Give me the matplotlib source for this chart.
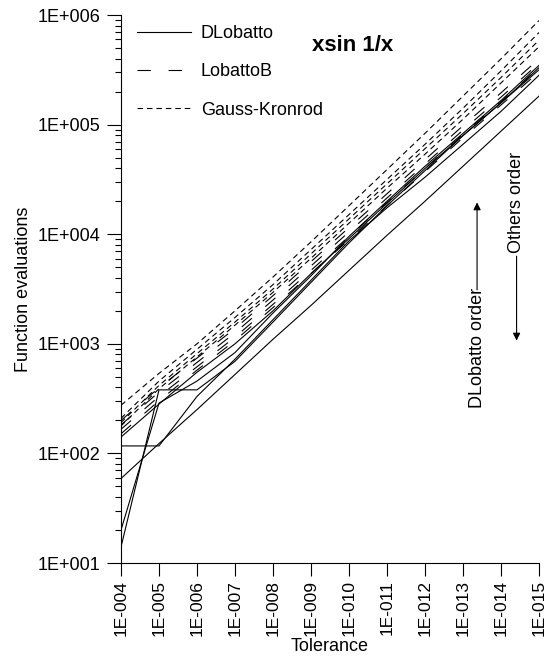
import matplotlib

matplotlib.use("Agg")

import matplotlib.pyplot as plt
import numpy as np
from matplotlib.ticker import FixedLocator, FuncFormatter, LogLocator, NullFormatter

plt.rcParams["font.family"] = ["Liberation Sans", "DejaVu Sans"]

TOLERANCES = ["1E-004", "1E-005", "1E-006", "1E-007", "1E-008", "1E-009",
              "1E-010", "1E-011", "1E-012", "1E-013", "1E-014", "1E-015"]

# DLobatto (solid), one series per order
DLOBATTO = [
    [14, 380, 380, 692, 1580, 3630, 8320, 18200, 38000, 79400, 158000, 331000],
    [20, 288, 457, 832, 1910, 4170, 9550, 20000, 41700, 83200, 166000, 347000],
    [117, 117, 331, 724, 1660, 3800, 8710, 17400, 33100, 66100, 132000, 282000],
    [59, 123, 251, 525, 1100, 2240, 4680, 9770, 20000, 41700, 87100, 182000],
    [141, 282, 550, 1000, 2000, 4370, 9120, 19100, 39800, 79400, 158000, 316000],
]
# LobattoB (long dash)
LOBATTOB = [
    [200, 398, 741, 1380, 2750, 5620, 11500, 23400, 47900, 97700, 195000, 398000],
    [182, 363, 676, 1260, 2510, 5130, 10500, 21400, 43700, 89100, 178000, 363000],
    [166, 331, 617, 1150, 2290, 4680, 9550, 19500, 39800, 81300, 162000, 331000],
    [151, 302, 575, 1070, 2140, 4370, 8910, 18200, 37200, 75900, 151000, 302000],
]
# Gauss-Kronrod (short dash)
GAUSS_KRONROD = [
    [275, 537, 1000, 2000, 4070, 8510, 18200, 38900, 83200, 182000, 398000, 891000],
    [209, 457, 891, 1740, 3470, 7240, 15100, 31600, 66100, 141000, 309000, 692000],
    [191, 417, 813, 1580, 3160, 6610, 13800, 28800, 60300, 126000, 269000, 589000],
    [178, 389, 759, 1480, 2950, 6030, 12600, 26300, 53700, 112000, 240000, 513000],
]

LONG_DASH = (0, (12, 16))
SHORT_DASH = (0, (5, 3.5))
LW = 0.8


def decade_label(v, _pos):
    return f"1E+{int(round(np.log10(v))):03d}"


fig = plt.figure(figsize=(5.46, 6.60), dpi=100)
ax = fig.add_axes((121 / 546, 1 - 563 / 660, 418 / 546, 548 / 660))

x = np.arange(len(TOLERANCES))
for i, ys in enumerate(DLOBATTO):
    ax.plot(x, ys, "-", color="black", lw=LW, label="DLobatto" if i == 0 else None)
for i, ys in enumerate(LOBATTOB):
    ax.plot(x, ys, ls=LONG_DASH, color="black", lw=LW, label="LobattoB" if i == 0 else None)
for i, ys in enumerate(GAUSS_KRONROD):
    ax.plot(x, ys, ls=SHORT_DASH, color="black", lw=LW,
            label="Gauss-Kronrod" if i == 0 else None)

ax.set_yscale("log")
ax.set_ylim(10, 1e6)
ax.set_xlim(0, len(TOLERANCES) - 1)
ax.yaxis.set_major_locator(LogLocator(base=10, numticks=10))
ax.yaxis.set_major_formatter(FuncFormatter(decade_label))
ax.yaxis.set_minor_locator(LogLocator(base=10, subs=np.arange(2, 10), numticks=20))
ax.yaxis.set_minor_formatter(NullFormatter())
ax.xaxis.set_major_locator(FixedLocator(x))
ax.set_xticklabels(TOLERANCES, rotation=90)

for side in ("top", "right"):
    ax.spines[side].set_visible(False)
ax.tick_params(which="major", length=10, width=0.8, pad=5, labelsize=13)
ax.tick_params(axis="x", which="major", length=9.5, pad=3, labelsize=12.5)
ax.tick_params(which="minor", length=4.5, width=0.8)

ax.set_xlabel("Tolerance", fontsize=13, labelpad=1)
ax.set_ylabel("Function evaluations", fontsize=13, labelpad=4)

ax.text(0.555, 0.945, "xsin 1/x", transform=ax.transAxes, ha="center", va="center",
        fontsize=16, fontweight="bold")

ax.legend(loc="upper left", frameon=False, fontsize=13, handlelength=3.0,
          handletextpad=0.55, labelspacing=1.18, borderaxespad=0.0,
          bbox_to_anchor=(0.02, 0.995))

# order annotations on the right
arrow = dict(arrowstyle="-|>", color="black", lw=0.8, mutation_scale=11, shrinkA=0, shrinkB=0)
ax.text(9.37, 910, "DLobatto order", rotation=90, ha="center", va="center", fontsize=13)
ax.annotate("", xy=(9.37, 19500), xytext=(9.37, 3100), arrowprops=arrow)
ax.text(10.41, 19500, "Others order", rotation=90, ha="center", va="center", fontsize=13)
ax.annotate("", xy=(10.41, 1070), xytext=(10.41, 6300), arrowprops=arrow)

fig.savefig("out.png", dpi=100)
